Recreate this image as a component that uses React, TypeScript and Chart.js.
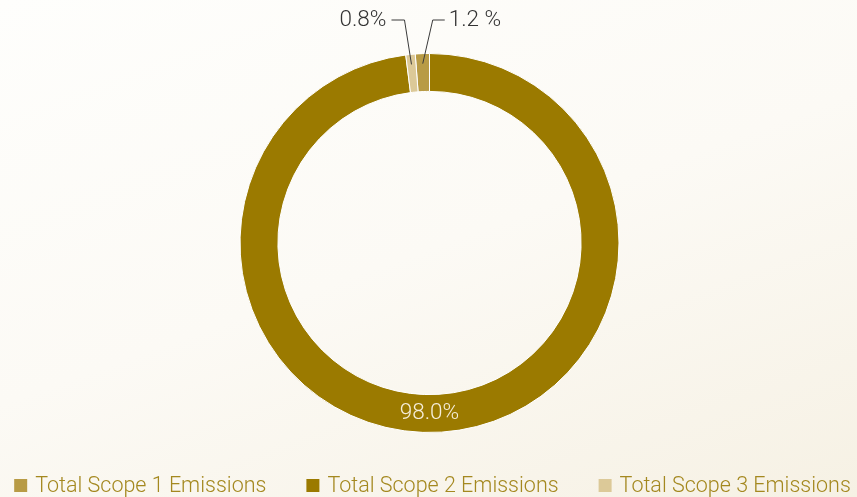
import React, { useEffect, useRef } from "react";
import { Chart, registerables } from "chart.js";

Chart.register(...registerables);

const categories = ["Total Scope 1 Emissions", "Total Scope 2 Emissions", "Total Scope 3 Emissions"];
const shares = [1.2, 98.0, 0.8];
const valueLabels = ["1.2 %", "98.0%", "0.8%"];
const sliceColors = ["#B89B45", "#9B7A00", "#DCC998"];

const FONT_FAMILY = "Roboto, 'Liberation Sans', Arial, sans-serif";
const LABEL_FONT = `300 22.5px ${FONT_FAMILY}`;
const LEGEND_FONT = `300 21.5px ${FONT_FAMILY}`;

const labelPlugin = {
  id: "sliceLabels",
  afterDatasetsDraw(chart: any) {
    const ctx = chart.ctx;
    const meta = chart.getDatasetMeta(0);
    ctx.save();
    ctx.font = LABEL_FONT;
    ctx.textBaseline = "middle";
    meta.data.forEach((arc: any, i: number) => {
      const { x, y, startAngle, endAngle, innerRadius, outerRadius } = arc.getProps(
        ["x", "y", "startAngle", "endAngle", "innerRadius", "outerRadius"],
        true
      );
      const value = shares[i];
      if (value > 10) {
        const r = (innerRadius + outerRadius) / 2;
        const a = Math.PI / 2;
        ctx.fillStyle = "#F6EEDA";
        ctx.textAlign = "center";
        ctx.fillText(valueLabels[i], x + Math.cos(a) * r, y + Math.sin(a) * r);
      } else {
        const mid = (startAngle + endAngle) / 2;
        const r = outerRadius - 10;
        const ax = x + Math.cos(mid) * r;
        const ay = y + Math.sin(mid) * r;
        const left = i === 2;
        const rowY = 20;
        const ex = left ? ax - 7 : ax + 10;
        const hx = left ? ex - 13 : ex + 12;
        ctx.strokeStyle = "#3A3A3A";
        ctx.lineWidth = 1;
        ctx.beginPath();
        ctx.moveTo(ax, ay);
        ctx.lineTo(ex, rowY);
        ctx.lineTo(hx, rowY);
        ctx.stroke();
        ctx.fillStyle = "#333333";
        ctx.textAlign = left ? "right" : "left";
        ctx.fillText(valueLabels[i], left ? hx - 5 : hx + 4, rowY);
      }
    });
    ctx.restore();
  },
};

const legendPlugin = {
  id: "bottomLegend",
  afterDraw(chart: any) {
    const ctx = chart.ctx;
    ctx.save();
    ctx.font = LEGEND_FONT;
    ctx.textBaseline = "middle";
    ctx.textAlign = "left";
    const box = 13;
    const boxGap = 8;
    const itemGap = 40;
    const widths = categories.map((c) => box + boxGap + ctx.measureText(c).width);
    const total = widths.reduce((s, w) => s + w, 0) + itemGap * (categories.length - 1);
    let cx = chart.width / 2 + 4 - total / 2;
    const cy = chart.height - 11.5;
    categories.forEach((c, i) => {
      ctx.fillStyle = sliceColors[i];
      ctx.fillRect(cx, cy - box / 2, box, box);
      ctx.fillStyle = "#A4881F";
      ctx.fillText(c, cx + box + boxGap, cy + 1);
      cx += widths[i] + itemGap;
    });
    ctx.restore();
  },
};

export default function App() {
  const ref = useRef<HTMLCanvasElement | null>(null);

  useEffect(() => {
    if (!ref.current) return;
    const chart = new Chart(ref.current, {
      type: "doughnut",
      data: {
        labels: categories,
        datasets: [
          {
            data: shares,
            backgroundColor: sliceColors,
            borderColor: "#FFFFFF",
            borderWidth: 1,
            radius: 189.5,
          } as any,
        ],
      },
      options: {
        responsive: false,
        animation: false,
        cutout: "80%",
        rotation: -4.32,
        layout: { padding: { top: 54, bottom: 65, left: 2, right: 0 } },
        plugins: {
          legend: { display: false },
          tooltip: { enabled: false },
        },
      },
      plugins: [labelPlugin, legendPlugin],
    });
    return () => chart.destroy();
  }, []);

  return (
    <div
      style={{
        position: "fixed",
        left: 0,
        top: 0,
        width: 857,
        height: 497,
        background: "linear-gradient(160deg, #FEFEFC 0%, #FCFAF5 50%, #F6F1E4 100%)",
      }}
    >
      <canvas ref={ref} width={857} height={497} style={{ display: "block" }} />
    </div>
  );
}
